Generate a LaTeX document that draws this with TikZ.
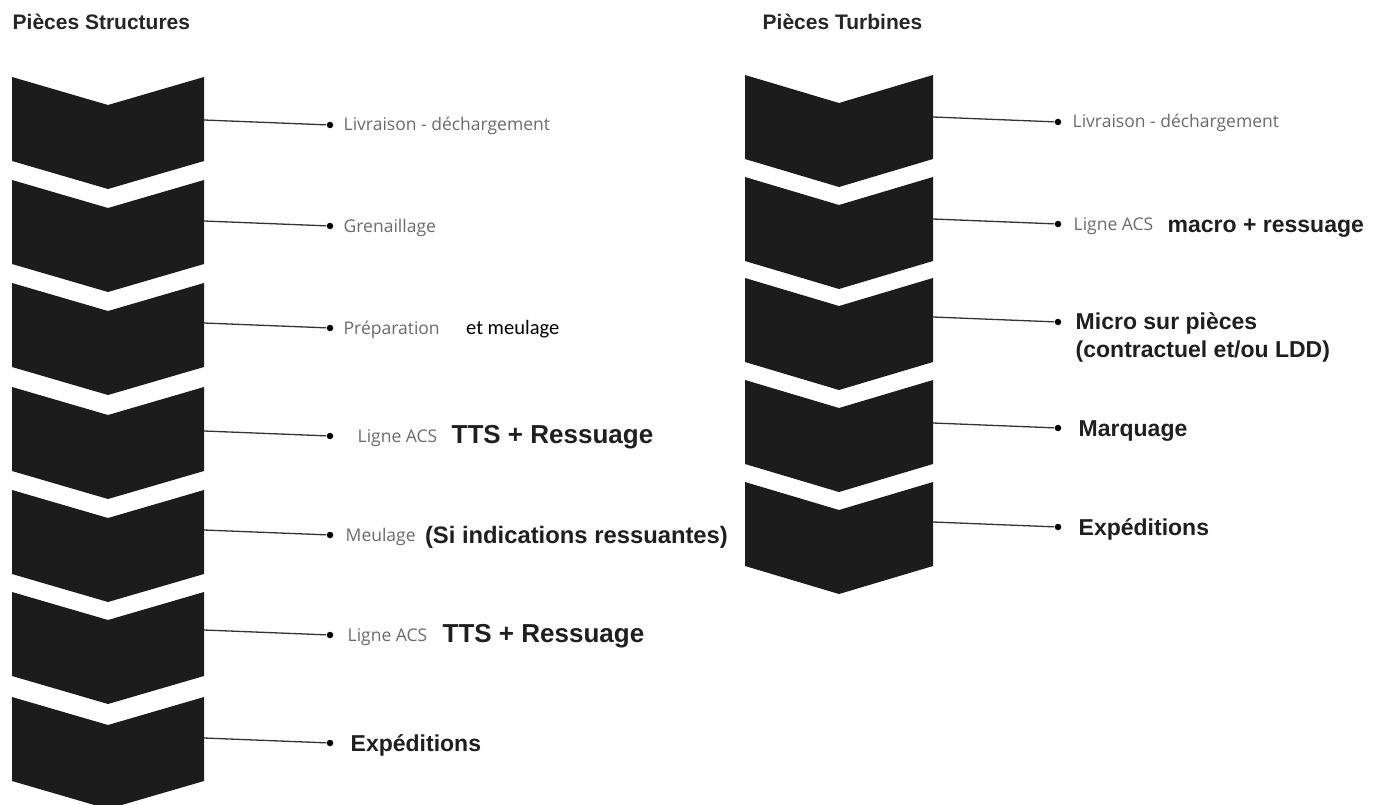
\documentclass[tikz,border=0pt]{standalone}
\usepackage{fontspec}
\setmainfont{Liberation Sans}
\newfontfamily\opensans{Open Sans}
\newfontfamily\carlito{Carlito}
\usepackage{tikz}

\tikzset{
  chevfill/.style={fill=black!89},
  bullet/.style={circle, fill=black, inner sep=0pt, minimum size=6.5pt},
  link/.style={draw=black!80, line width=1.3pt},
  titletxt/.style={anchor=base west, inner sep=0pt, text=black!85, font=\bfseries\fontsize{21}{24}\selectfont},
  graytxt/.style={anchor=base west, inner sep=0pt, text=black!58, font=\opensans\fontsize{17.5}{21}\selectfont},
  bodytxt/.style={anchor=base west, inner sep=0pt, text=black, font=\carlito\fontsize{20.5}{24}\selectfont},
  boldtxt/.style={anchor=base west, inner sep=0pt, text=black!88, font=\bfseries\fontsize{23}{28}\selectfont},
  boldbig/.style={boldtxt, font=\bfseries\fontsize{26}{30}\selectfont}
}

% one chevron: left x, top y, right x
\newcommand{\chevshape}[3]{%
  \fill[chevfill] (#1,#2) -- ({(#1+#3)/2},#2+28) -- (#3,#2) -- (#3,#2+84)
    -- ({(#1+#3)/2},#2+112) -- (#1,#2+84) -- cycle;}

\begin{document}
\begin{tikzpicture}[x=1pt, y=-1pt, line width=1.4pt]
    \useasboundingbox (0,0) rectangle (1383,805);

    % draw titles
    \node[titletxt] (tleft) at (12,30) {Pièces Structures};
    \node[titletxt] (tright) at (762,30) {Pièces Turbines};

    % draw left chevrons with their dots
    \foreach \tp/\dy/\n in {77/125/1, 180/226/2, 283/328/3, 387/436/4, 490/535/5, 592/635/6, 697/743/7}{
      \chevshape{12}{\tp}{204}
      \coordinate (ls\n) at (204,\dy-5);
      \node[bullet] (ld\n) at (330,\dy) {};
      \draw[link] (ls\n) -- (ld\n);
    }

    % draw right chevrons with their dots
    \foreach \tp/\dy/\n in {75/122/1, 177/224/2, 278/322/3, 380/428/4, 482/527/5}{
      \chevshape{745}{\tp}{933}
      \coordinate (rs\n) at (933,\dy-5);
      \node[bullet] (rd\n) at (1058,\dy) {};
      \draw[link] (rs\n) -- (rd\n);
    }

    % left labels
    \node[graytxt] (lt1) at ([xshift=13pt, yshift=-6pt]ld1) {Livraison - déchargement};
    \node[graytxt] (lt2) at ([xshift=13pt, yshift=-6pt]ld2) {Grenaillage};
    \node[graytxt] (lt3) at ([xshift=13pt, yshift=-6pt]ld3) {Préparation};
    \node[bodytxt] (le3) at ([xshift=25pt]lt3.base east) {et meulage};
    \node[graytxt] (lt4) at ([xshift=27pt, yshift=-6pt]ld4) {Ligne ACS};
    \node[boldbig] (lb4) at ([xshift=13pt, yshift=-1pt]lt4.base east) {TTS + Ressuage};
    \node[graytxt] (lt5) at ([xshift=15pt, yshift=-6pt]ld5) {Meulage};
    \node[boldtxt, font=\bfseries\fontsize{23.8}{28}\selectfont] (lb5) at ([xshift=8pt, yshift=-2pt]lt5.base east) {(Si indications ressuantes)};
    \node[graytxt] (lt6) at ([xshift=17pt, yshift=-6pt]ld6) {Ligne ACS};
    \node[boldbig] (lb6) at ([xshift=14pt, yshift=-1pt]lt6.base east) {TTS + Ressuage};
    \node[boldtxt] (lb7) at ([xshift=20pt, yshift=-8pt]ld7) {Expéditions};

    % right labels
    \node[graytxt] (rt1) at ([xshift=14pt, yshift=-6pt]rd1) {Livraison - déchargement};
    \node[graytxt] (rt2) at ([xshift=15pt, yshift=-6pt]rd2) {Ligne ACS};
    \node[boldtxt] (rb2) at ([xshift=13pt, yshift=-2pt]rt2.base east) {macro + ressuage};
    \node[boldtxt, anchor=west, align=left] (rb3) at ([xshift=17pt, yshift=-15pt]rd3)
      {Micro sur pièces\\(contractuel et/ou LDD)};
    \node[boldtxt] (rb4) at ([xshift=20pt, yshift=-8pt]rd4) {Marquage};
    \node[boldtxt] (rb5) at ([xshift=20pt, yshift=-8pt]rd5) {Expéditions};

\end{tikzpicture}
\end{document}
